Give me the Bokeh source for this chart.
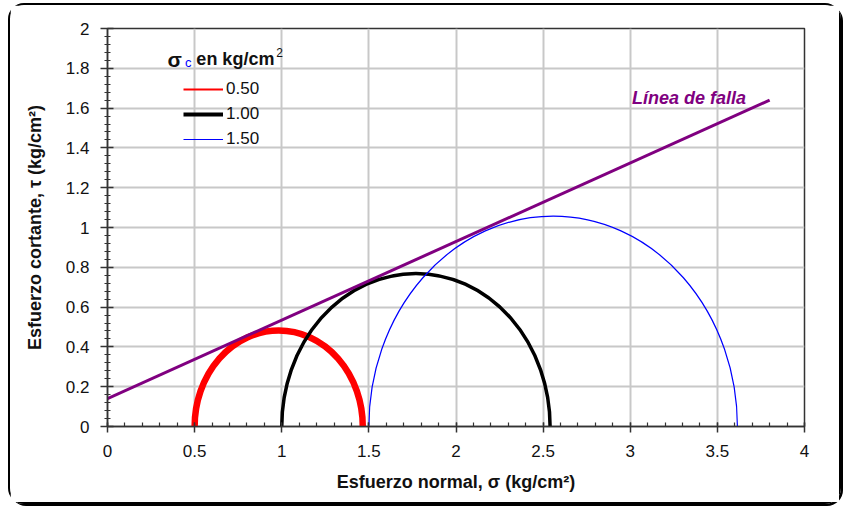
import numpy as np
from bokeh.plotting import figure
from bokeh.models import (FixedTicker, NumeralTickFormatter, Range1d, Label,
                          Legend, LegendItem)
from bokeh.embed import file_html
from bokeh.resources import INLINE

# ---- data ----
series_labels = ["0.50", "1.00", "1.50"]          # sigma_c (kg/cm2)
sigma3 = [0.50, 1.00, 1.50]                       # minor principal stress
sigma1 = [1.465, 2.54, 3.615]                     # major principal stress
series_colors = ["#ff0000", "#000000", "#0000ff"]

fail_x = [0.0, 3.8]
fail_y = [0.14, 1.64]

x_ticks = [0, 0.5, 1, 1.5, 2, 2.5, 3, 3.5, 4]
y_ticks = [0, 0.2, 0.4, 0.6, 0.8, 1, 1.2, 1.4, 1.6, 1.8, 2]
x_minor = [round(i * 0.1, 2) for i in range(41)]
y_minor = [round(i * 0.04, 2) for i in range(51)]

FONT = "Liberation Sans"

p = figure(width=833, height=501, output_backend="svg", toolbar_location=None,
           x_range=Range1d(0, 4), y_range=Range1d(0, 2),
           min_border_left=97, min_border_right=39, min_border_top=23,
           min_border_bottom=80)
p.styles = {"border": "2px solid #000", "border-radius": "16px",
            "box-shadow": "2px 2px 0 #000", "margin": "3px 0 0 8px"}
p.background_fill_color = "white"
p.border_fill_color = "white"
p.outline_line_color = "#333333"
p.outline_line_width = 1.5

# grid
p.xgrid.ticker = FixedTicker(ticks=x_ticks)
p.ygrid.ticker = FixedTicker(ticks=y_ticks)
for g in (p.xgrid, p.ygrid):
    g.grid_line_color = "#c8c8c8"
    g.grid_line_width = 2

# axes
p.xaxis.ticker = FixedTicker(ticks=x_ticks, minor_ticks=x_minor)
p.yaxis.ticker = FixedTicker(ticks=y_ticks, minor_ticks=y_minor)
p.xaxis.formatter = NumeralTickFormatter(format="0.[0]")
p.yaxis.formatter = NumeralTickFormatter(format="0.[0]")
for ax in (p.xaxis, p.yaxis):
    ax.axis_line_color = "#333333"
    ax.axis_line_width = 1.5
    ax.major_tick_line_color = "#333333"
    ax.major_tick_line_width = 1.5
    ax.minor_tick_line_color = "#333333"
    ax.minor_tick_line_width = 1.2
    ax.major_label_text_font = FONT
    ax.major_label_text_font_size = "17px"
    ax.major_label_text_color = "#111111"
    ax.axis_label_text_font = FONT
    ax.axis_label_text_font_size = "18px"
    ax.axis_label_text_font_style = "bold"
    ax.axis_label_text_color = "#111111"

p.xaxis.major_tick_in = 4
p.xaxis.major_tick_out = 6
p.xaxis.minor_tick_in = 4
p.xaxis.minor_tick_out = 0
p.xaxis.major_label_standoff = 12
p.xaxis.axis_label_standoff = 12
p.xaxis.axis_label = "Esfuerzo normal, σ (kg/cm²)"

p.yaxis.major_tick_in = 6
p.yaxis.major_tick_out = 7
p.yaxis.minor_tick_in = 3
p.yaxis.minor_tick_out = 3
p.yaxis.major_label_standoff = 11
p.yaxis.axis_label_standoff = 18
p.yaxis.axis_label = "Esfuerzo cortante, τ (kg/cm²)"

# Mohr circles (upper half visible; lower half clipped by the frame)
circle_widths = [6.5, 3.5, 1.2]
for s3, s1, col, lw in zip(sigma3, sigma1, series_colors, circle_widths):
    c = (s1 + s3) / 2
    d = s1 - s3
    p.ellipse(x=[c], y=[0], width=[d], height=[d], fill_color=None,
              line_color=col, line_width=lw)

# failure line
p.line(fail_x, fail_y, line_color="#800080", line_width=3)
p.add_layout(Label(x=3.01, y=1.65, text="Línea de falla", text_font=FONT,
                   text_font_size="18px", text_font_style="bold italic",
                   text_color="#800080", text_baseline="middle"))

# legend (swatch-only renderers: a single NaN point draws nothing in the plot)
legend_widths = [2, 4, 1.2]
items = []
for lab, col, lw in zip(series_labels, series_colors, legend_widths):
    r = p.line(x=[np.nan], y=[np.nan], line_color=col, line_width=lw)
    items.append(LegendItem(label=lab, renderers=[r]))
leg = Legend(items=items, location=(76, 277), orientation="vertical",
             glyph_width=40, glyph_height=20, label_height=20, spacing=5,
             label_standoff=3, padding=0, margin=0,
             border_line_color=None, background_fill_alpha=0,
             label_text_font=FONT, label_text_font_size="17px",
             label_text_color="#111111")
p.add_layout(leg)

# legend title: sigma_c en kg/cm2
p.add_layout(Label(x=0.345, y=1.845, text="σ", text_font=FONT,
                   text_font_size="21px", text_font_style="bold",
                   text_color="#111111", text_baseline="alphabetic"))
p.add_layout(Label(x=0.445, y=1.83, text="c", text_font=FONT,
                   text_font_size="13px", text_color="#0000ff",
                   text_baseline="alphabetic"))
p.add_layout(Label(x=0.51, y=1.845, text="en kg/cm", text_font=FONT,
                   text_font_size="18px", text_font_style="bold",
                   text_color="#111111", text_baseline="alphabetic"))
p.add_layout(Label(x=0.968, y=1.88, text="2", text_font=FONT,
                   text_font_size="12px",
                   text_color="#111111", text_baseline="alphabetic"))

open("out.html", "w").write(file_html(p, INLINE))
